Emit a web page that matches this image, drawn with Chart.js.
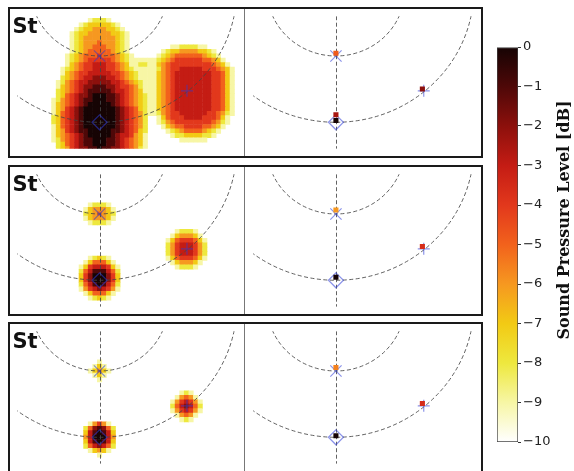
<!DOCTYPE html>
<html><head><meta charset="utf-8">
<script src="https://cdn.jsdelivr.net/npm/chart.js@4/dist/chart.umd.min.js"></script>
<style>
html,body{margin:0;padding:0;background:#fff;overflow:hidden;width:574px;height:471px;position:relative;}
canvas{position:absolute;display:block;}
canvas.rp{background:#fff;}
</style></head><body>
<canvas id="L0" width="238" height="151" style="left:8px;top:7px"></canvas>
<canvas id="R0" class="rp" width="239" height="151" style="left:244px;top:7px"></canvas>
<canvas id="L1" width="238" height="151" style="left:8px;top:165px"></canvas>
<canvas id="R1" class="rp" width="239" height="151" style="left:244px;top:165px"></canvas>
<canvas id="L2" width="238" height="151" style="left:8px;top:322px"></canvas>
<canvas id="R2" class="rp" width="239" height="151" style="left:244px;top:322px"></canvas>
<canvas id="CB" width="77" height="429" style="left:497px;top:30px"></canvas>
<script>
// ================= DATA =================
const xRange = [-1.2, 2.0];          // panel x extent [m]
const yRange = [0.4, 2.4];           // panel depth extent [m]
const ringRadii = [1, 2];            // dashed guide circles
const axisX = 0;                     // dashed vertical guide
const gridStep = 1 / 15;             // map cell size [m]
const gridCol0 = 17;                 // column whose centre is x = 0
const gridRow0 = 23;                 // row whose centre is y = 2
const gridY0 = 2;

// true source positions
const srcX = [0, 1.274, 0];
const srcY = [1, 1.526, 2];
const srcStyle = ['crossRot', 'cross', 'rectRot'];

// estimated sources (right panels)
const est1X = [0, 1.254, 0, 0];
const est1Y = [0.960, 1.499, 1.887, 1.972];
const est1Lv = [-4.8, -2, -2.5, 0];
const est2X = [0, 1.254, 0];
const est2Y = [0.939, 1.490, 1.954];
const est2Lv = [-6, -3.6, 0];
const est3X = [0, 1.254, 0];
const est3Y = [0.947, 1.490, 1.976];
const est3Lv = [-5.6, -3.6, 0];

// beamforming maps: one string per row, "startColumn:levels" (digit d = -d dB)
const heat1 = [
"15:98889",
"13:987777789",
"12:98776667789",
"11:9877666667789",
"11:9876666666789",
"11:9876665666789",
"11:9876655566789 33:99888899",
"11:9876555556789 31:987766667789",
"10:987655545556789 30:98765555556789",
"10:987654444456789 25:99999 30:876544444455679",
"10:976544333445679 25:9889 29:97654444444445679",
"9:98765443334456789 26:999 29:986544333334445679",
"9:976544333334456789 27:99 29:976543333333344579",
"9:876543322233456789 27:99 29:976543333333344579",
"8:98654332222233456789 28:9 29:976543333333344579",
"8:97654322111223445689 28:9 29:976543333333344579",
"8:87654321111123345679 28:9 29:976543333333344579",
"8:87543221000112345678 28:9 29:976543333333344579",
"7:986543211000112345678 28:9 29:976543333333344579",
"7:976543210000012345678 28:9 29:976543333333344579",
"7:976432100000001234578 28:9 29:976543333333344579",
"7:975432100000001234568 28:9 29:986544333333445689",
"7:875432100000001234568 30:9754443333444579",
"7:875432100000001234568 30:9865444444445689",
"7:975432100000001234568 31:97655444455679",
"7:976432110000011234578 32:987655556789",
"7:976543210000012334679 33:9887777889",
"7:986543211000112345679 35:999999",
"8:87543211000112345679",
"8:87643221101122345689"
];
const heat2 = [
"", "", "", "", "", "",
"15:98889",
"14:9766679",
"14:8765678",
"14:9766679",
"15:98889",
"",
"34:98889",
"33:9766679",
"32:975444579",
"32:864333468",
"32:864333468",
"32:864333468",
"15:98789 32:975444579",
"14:9755579 33:9766679",
"13:974333479 34:98889",
"13:853111358",
"13:742000247",
"13:742000247",
"13:853101358",
"13:964323469",
"14:9755579",
"15:98789",
"", ""
];
const heat3 = [
"", "", "", "", "", "",
"17:9",
"16:979",
"15:97679",
"16:979",
"17:9",
"", "",
"35:989",
"34:96569",
"33:9643469",
"33:8532358",
"33:9643469",
"34:96569",
"35:989",
"15:96469",
"14:8521258",
"14:7310137",
"14:6300036",
"14:7310137",
"14:8532358",
"15:97679",
"17:9",
"", ""
];

// colour bar
const cbTicks = [0, -1, -2, -3, -4, -5, -6, -7, -8, -9, -10];
const cbRange = [-10, 0];
const cbTitle = 'Sound Pressure Level [dB]';
const panelLabel = 'St';

// colormap anchor colours for 0, -1, ..., -10 dB
const cmapColors = [
  [22, 4, 4], [78, 8, 8], [140, 16, 12], [196, 28, 20], [226, 56, 28],
  [242, 98, 28], [246, 152, 32], [242, 202, 20], [238, 232, 62],
  [247, 246, 165], [255, 255, 255]
];

// ================= HELPERS =================
function colorFor(v) {
  const t = Math.min(10, Math.max(0, -v));
  const i = Math.min(9, Math.floor(t));
  const f = t - i;
  const a = cmapColors[i], b = cmapColors[i + 1];
  const c = a.map((av, k) => Math.round(av + (b[k] - av) * f));
  return `rgb(${c[0]},${c[1]},${c[2]})`;
}

function parseHeat(rows) {
  const pts = [];
  rows.forEach((row, j) => {
    row.split(' ').filter(Boolean).forEach(seg => {
      const [c0, digits] = seg.split(':');
      for (let k = 0; k < digits.length; k++) {
        const i = parseInt(c0, 10) + k;
        pts.push({ x: (i - gridCol0) * gridStep, y: gridY0 + (j - gridRow0) * gridStep, v: -parseInt(digits[k], 10) });
      }
    });
  });
  return pts;
}

function cellRadius(ctx) {
  const c = ctx.chart, xs = c.scales.x, ys = c.scales.y;
  const w = Math.abs(xs.getPixelForValue(gridStep) - xs.getPixelForValue(0));
  const h = Math.abs(ys.getPixelForValue(gridStep) - ys.getPixelForValue(0));
  return (Math.max(w, h) + 0.5) / Math.SQRT2;
}

const guidePlugin = {
  id: 'guides',
  afterDatasetDraw(chart, args) {
    if (!chart.data.datasets[args.index].isBase) return;
    const { ctx, chartArea, scales } = chart;
    const xs = scales.x, ys = scales.y;
    const cx = xs.getPixelForValue(axisX), cy = ys.getPixelForValue(0);
    ctx.save();
    ctx.beginPath();
    ctx.rect(chartArea.left, chartArea.top, chartArea.width, chartArea.height);
    ctx.clip();
    ctx.strokeStyle = 'rgba(70,70,70,0.85)';
    ctx.lineWidth = 1;
    ctx.setLineDash([4, 2.5]);
    ringRadii.forEach(r => {
      const rx = Math.abs(xs.getPixelForValue(r) - cx);
      const ry = Math.abs(ys.getPixelForValue(r) - cy);
      ctx.beginPath();
      ctx.ellipse(cx, cy, rx, ry, 0, 0, Math.PI * 2);
      ctx.stroke();
    });
    ctx.beginPath();
    ctx.moveTo(Math.round(cx) + 0.5, chartArea.top);
    ctx.lineTo(Math.round(cx) + 0.5, chartArea.bottom);
    ctx.stroke();
    ctx.restore();
  }
};

const framePlugin = {
  id: 'frame',
  afterDraw(chart, args, opts) {
    const { ctx, width, height } = chart;
    ctx.save();
    ctx.setLineDash([]);
    ctx.strokeStyle = '#1a1a1a';
    ctx.lineWidth = 2;
    ctx.beginPath();
    ctx.moveTo(0, 1); ctx.lineTo(width, 1);
    ctx.moveTo(0, height - 1); ctx.lineTo(width, height - 1);
    if (opts.side === 'left') { ctx.moveTo(1, 0); ctx.lineTo(1, height); }
    else { ctx.moveTo(width - 1, 0); ctx.lineTo(width - 1, height); }
    ctx.stroke();
    if (opts.side === 'right') {
      ctx.strokeStyle = '#777';
      ctx.lineWidth = 1;
      ctx.beginPath();
      ctx.moveTo(0.5, 2); ctx.lineTo(0.5, height - 2);
      ctx.stroke();
    }
    if (opts.label) {
      ctx.fillStyle = '#111';
      ctx.font = 'bold 21px "DejaVu Sans"';
      ctx.textBaseline = 'alphabetic';
      ctx.textAlign = 'left';
      ctx.fillText(opts.label, 4.5, 26);
    }
    ctx.restore();
  }
};

function sourceDataset() {
  return {
    data: srcX.map((x, i) => ({ x, y: srcY[i] })),
    pointStyle: srcStyle,
    radius: [8, 6, 7.5],
    borderColor: 'rgba(45,60,215,0.55)',
    backgroundColor: 'rgba(0,0,0,0)',
    borderWidth: 1.2,
    order: 2
  };
}

function panel(id, side, datasets, label) {
  return new Chart(document.getElementById(id), {
    type: 'scatter',
    data: { datasets },
    options: {
      responsive: false, animation: false, devicePixelRatio: 1, events: [],
      layout: { padding: 0 },
      plugins: { legend: { display: false }, tooltip: { enabled: false }, frame: { side, label } },
      scales: {
        x: { type: 'linear', min: xRange[0], max: xRange[1], display: false },
        y: { type: 'linear', min: yRange[0], max: yRange[1], reverse: true, display: false }
      }
    },
    plugins: [guidePlugin, framePlugin]
  });
}

function heatDataset(rows) {
  const pts = parseHeat(rows);
  return {
    isBase: true,
    data: pts,
    pointStyle: 'rect',
    radius: cellRadius,
    borderWidth: 0,
    backgroundColor: ctx => colorFor(ctx.raw ? ctx.raw.v : -10),
    order: 10
  };
}

function estDataset(xs, ys, lv) {
  return {
    data: xs.map((x, i) => ({ x, y: ys[i] })),
    pointStyle: 'rect',
    radius: 3.6,
    borderWidth: 0,
    backgroundColor: lv.map(colorFor),
    order: 1
  };
}

const heats = [heat1, heat2, heat3];
const ests = [[est1X, est1Y, est1Lv], [est2X, est2Y, est2Lv], [est3X, est3Y, est3Lv]];
heats.forEach((h, r) => {
  panel('L' + r, 'left', [heatDataset(h), sourceDataset()], panelLabel);
  panel('R' + r, 'right', [{ isBase: true, data: [], order: 10 }, sourceDataset(), estDataset(...ests[r])], null);
});

// ================= COLOUR BAR =================
const cbTitlePlugin = {
  id: 'cbTitle',
  afterDraw(chart) {
    const { ctx } = chart;
    ctx.save();
    ctx.translate(68, 190);
    ctx.rotate(-Math.PI / 2);
    ctx.fillStyle = '#111';
    ctx.font = 'bold 16px "DejaVu Serif"';
    ctx.textAlign = 'center';
    ctx.textBaseline = 'middle';
    ctx.fillText(cbTitle, 0, 0);
    ctx.restore();
  }
};

new Chart(document.getElementById('CB'), {
  type: 'bar',
  data: {
    labels: ['level'],
    datasets: [{
      data: [cbRange],
      backgroundColor: ctx => {
        const ch = ctx.chart;
        if (!ch.chartArea) return '#fff';
        const ys = ch.scales.y;
        const g = ch.ctx.createLinearGradient(0, ys.getPixelForValue(cbRange[0]), 0, ys.getPixelForValue(cbRange[1]));
        cmapColors.slice().reverse().forEach((c, i) => g.addColorStop(i / 10, `rgb(${c[0]},${c[1]},${c[2]})`));
        return g;
      },
      borderColor: '#444',
      borderWidth: 1,
      borderSkipped: false,
      barPercentage: 1,
      categoryPercentage: 1
    }]
  },
  options: {
    responsive: false, animation: false, devicePixelRatio: 1, events: [],
    layout: { padding: { top: 17, bottom: 17, left: 0, right: 0 } },
    plugins: { legend: { display: false }, tooltip: { enabled: false } },
    scales: {
      x: { type: 'category', display: false },
      y: {
        type: 'linear', position: 'right', min: cbRange[0], max: cbRange[1],
        afterBuildTicks: s => { s.ticks = cbTicks.map(v => ({ value: v })); },
        afterFit: s => { s.width = 56; },
        grid: { drawOnChartArea: false, drawTicks: true, tickLength: 3, color: '#333' },
        border: { display: false },
        ticks: {
          padding: 2, color: '#222', font: { family: 'DejaVu Sans', size: 13 },
          callback: v => v === 0 ? '0' : '\u2212' + Math.abs(v)
        }
      }
    }
  },
  plugins: [cbTitlePlugin]
});
</script>
</body></html>
